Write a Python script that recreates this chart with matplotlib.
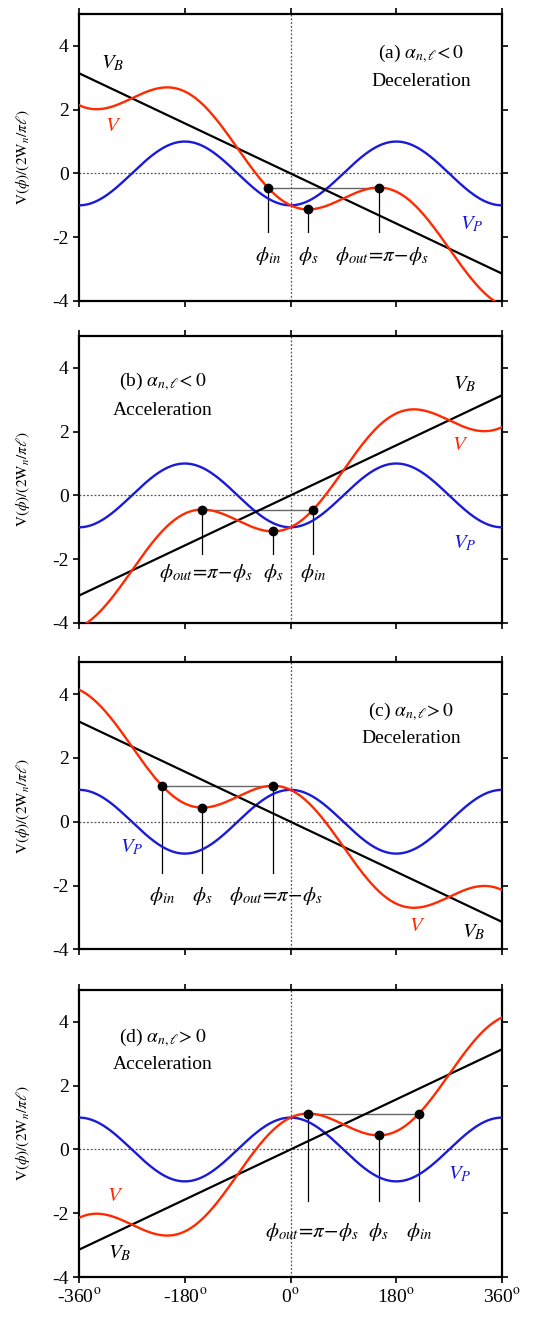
import numpy as np
import matplotlib.pyplot as plt

plt.rcParams['font.family'] = ['Liberation Serif', 'DejaVu Serif']
plt.rcParams['mathtext.fontset'] = 'stix'
plt.rcParams['axes.unicode_minus'] = False

# panel parameters: V_P = sign * cos(phi), V_B = slope * phi
panels = ['a', 'b', 'c', 'd']
vp_sign = [-1, -1, 1, 1]
vb_slope = [-0.5, 0.5, -0.5, 0.5]
amplitude = 1.0

# synchronous / entry / exit phases (degrees)
phi_s = [30, -30, -150, 150]
phi_in = [-38.5, 38.5, -218.5, 218.5]
phi_out = [150, -150, -30, 30]

sign_text = ['<0', '<0', '>0', '>0']
mode_text = ['Deceleration', 'Acceleration', 'Deceleration', 'Acceleration']

# text positions (x in degrees, y in V units)
title_xy = [(223, 3.77), (-218, 3.55), (206, 3.45), (-218, 3.51)]
mode_xy = [(223, 2.87), (-218, 2.65), (206, 2.6), (-218, 2.65)]
vb_xy = [(-302, 3.46), (297, 3.48), (311, -3.48), (-290, -3.27)]
v_xy = [(-302, 1.48), (288, 1.56), (215, -3.27), (-299, -1.47)]
vp_xy = [(308, -1.59), (297, -1.5), (-270, -0.82), (288, -0.78)]
stem_end = [-1.85, -1.85, -1.62, -1.6]
label_y = [-2.6, -2.42, -2.34, -2.6]

xticks = [-360, -180, 0, 180, 360]
xticklabels = ['-360$^{\\rm o}$', '-180$^{\\rm o}$', '0$^{\\rm o}$',
               '180$^{\\rm o}$', '360$^{\\rm o}$']
yticks = [-4, -2, 0, 2, 4]

red = '#ff2a00'
blue = '#1a1ad8'

bottoms = [0.7718, 0.5277, 0.2803, 0.0318]
fig = plt.figure(figsize=(5.36, 13.19), dpi=100)

phi = np.linspace(-360, 360, 1441)

for i, p in enumerate(panels):
    ax = fig.add_axes([0.1474, bottoms[i], 0.7892, 0.2176])

    def pot(d, i=i):
        r = np.radians(d)
        return vp_sign[i] * amplitude * np.cos(r) + vb_slope[i] * r

    vp = vp_sign[i] * amplitude * np.cos(np.radians(phi))
    vb = vb_slope[i] * np.radians(phi)
    v = vp + vb

    ax.axhline(0, color='#555555', lw=0.9, ls=(0, (1.5, 1.5)), zorder=1)
    ax.axvline(0, color='#555555', lw=0.9, ls=(0, (1.5, 1.5)), zorder=1)

    ax.plot(phi, vp, color=blue, lw=1.7, zorder=3)
    ax.plot(phi, vb, color='black', lw=1.6, zorder=3)
    ax.plot(phi, v, color=red, lw=1.7, zorder=4)

    # bucket level between entry and exit phase
    level = pot(phi_out[i])
    ax.plot([phi_in[i], phi_out[i]], [level, level], color='#666666', lw=1.0, zorder=2)
    for ph in [phi_in[i], phi_s[i], phi_out[i]]:
        ax.plot([ph, ph], [pot(ph), stem_end[i]], color='black', lw=0.9, zorder=2)
        ax.plot(ph, pot(ph), 'o', color='black', ms=6, zorder=5)

    fs = 15
    ax.text(phi_in[i], label_y[i], r'$\phi_{in}$', ha='center', va='center', fontsize=fs)
    ax.text(phi_s[i], label_y[i], r'$\phi_{s}$', ha='center', va='center', fontsize=fs)
    ax.text(phi_out[i] + 6, label_y[i], r'$\phi_{out}\!=\!\pi\!-\!\phi_{s}$',
            ha='center', va='center', fontsize=fs)

    ax.text(*title_xy[i], '(%s) $\\alpha_{n,\\ell}\\!%s$' % (p, sign_text[i]),
            ha='center', va='center', fontsize=14)
    ax.text(*mode_xy[i], mode_text[i], ha='center', va='center', fontsize=14)

    ax.text(*vb_xy[i], r'$V_B$', ha='center', va='center', fontsize=15, color='black')
    ax.text(*v_xy[i], r'$V$', ha='center', va='center', fontsize=15, color=red)
    ax.text(*vp_xy[i], r'$V_P$', ha='center', va='center', fontsize=15, color=blue)

    ax.set_xlim(-360, 360)
    ax.set_ylim(-4, 5)
    ax.set_xticks(xticks)
    ax.set_yticks(yticks)
    ax.set_yticklabels([str(t) for t in yticks], fontsize=14)
    if i == 3:
        ax.set_xticklabels(xticklabels, fontsize=14)
    else:
        ax.set_xticklabels([])
    ax.tick_params(direction='out', length=4, width=1.2, top=True, right=True)
    for s in ax.spines.values():
        s.set_linewidth(1.6)

    ax.set_ylabel(r'$\mathrm{V}(\phi)/(2\mathrm{W}_n/\pi\ell)$', fontsize=11)
    ax.yaxis.set_label_coords(-0.11, 0.5)

fig.savefig('out.png', dpi=100)
